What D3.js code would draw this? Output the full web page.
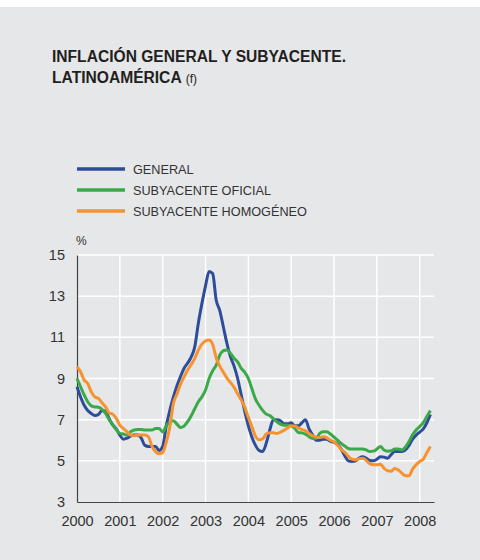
<!DOCTYPE html>
<html lang=es>
<meta charset=utf-8>
<title>Inflación general y subyacente</title>
<style>
  body { margin: 0; background: #fff; }
  svg { display: block; font-family: "Liberation Sans", Arial, sans-serif; }
</style>
<svg id=chart width=480 height=560></svg>
<script src="https://cdn.jsdelivr.net/npm/d3@7"></script>
<script>
// series mensuales, enero 2000 - abril 2008
var general = [
  8.6, 8.1, 7.7, 7.45, 7.3, 7.2, 7.25, 7.45, 7.4, 7.05, 6.75, 6.55,
  6.25, 6.05, 6.1, 6.2, 6.25, 6.25, 6.1, 5.75, 5.7, 5.7, 5.7, 5.5,
  5.7, 6.7, 7.45, 8.1, 8.65, 9.1, 9.5, 9.75, 10.05, 10.55, 11.7, 12.65,
  13.5, 14.2, 14.1, 12.8, 12.3, 11.5, 10.7, 10.05, 9.6, 9.0, 8.2, 7.4,
  6.7, 6.15, 5.75, 5.5, 5.45, 5.85, 6.5, 7.0, 7.0, 6.95, 6.8, 6.8,
  6.85, 6.7, 6.7, 6.85, 7.0, 6.55, 6.25, 6.0, 6.0, 6.05, 6.05, 5.95,
  5.9, 5.8, 5.57, 5.25, 5.0, 4.97, 5.0, 5.13, 5.2, 5.13, 5.02, 5.0,
  5.08, 5.2, 5.18, 5.13, 5.3, 5.45, 5.45, 5.45, 5.53, 5.75, 6.05, 6.25,
  6.4, 6.55, 6.85, 7.25
];
var subyacenteOficial = [
  9.0, 8.6, 8.2, 7.87, 7.67, 7.62, 7.6, 7.5, 7.3, 7.0, 6.75, 6.52,
  6.33, 6.3, 6.25, 6.41, 6.5, 6.52, 6.52, 6.5, 6.5, 6.5, 6.57, 6.57,
  6.4, 6.7, 6.88, 6.95, 6.78, 6.62, 6.69, 6.9, 7.19, 7.54, 7.87, 8.11,
  8.44, 9.0, 9.38, 9.65, 10.14, 10.35, 10.38, 10.22, 9.98, 9.81, 9.49, 9.3,
  9.0, 8.5, 8.0, 7.7, 7.45, 7.27, 7.2, 7.05, 6.9, 6.78, 6.73, 6.73,
  6.7, 6.57, 6.38, 6.36, 6.3, 6.17, 6.09, 6.09, 6.33, 6.41, 6.41, 6.3,
  6.15, 6.0, 5.85, 5.72, 5.6, 5.57, 5.57, 5.57, 5.57, 5.53, 5.45, 5.47,
  5.57, 5.7, 5.53, 5.47, 5.49, 5.57, 5.57, 5.53, 5.67, 5.94, 6.26, 6.5,
  6.67, 6.86, 7.15, 7.44
];
var subyacenteHomogeneo = [
  9.57, 9.33, 8.92, 8.76, 8.35, 8.11, 8.03, 7.82, 7.62, 7.33, 7.27, 7.06,
  6.73, 6.57, 6.41, 6.25, 6.22, 6.25, 6.25, 6.25, 6.17, 5.7, 5.45, 5.35,
  5.4, 5.9, 6.65, 7.79, 8.24, 8.73, 9.08, 9.41, 9.68, 9.98, 10.38, 10.67,
  10.82, 10.87, 10.65, 10.0, 9.6, 9.3, 9.02, 8.8, 8.57, 8.25, 7.96, 7.6,
  7.1, 6.65, 6.2, 6.02, 6.07, 6.3, 6.36, 6.36, 6.33, 6.39, 6.49, 6.6,
  6.69, 6.69, 6.6, 6.52, 6.46, 6.33, 6.22, 6.15, 6.13, 6.17, 6.12, 6.0,
  5.92, 5.76, 5.55, 5.42, 5.22, 5.08, 5.05, 5.1, 5.13, 5.02, 4.86, 4.81,
  4.81, 4.84, 4.64, 4.52, 4.5, 4.63, 4.56, 4.4, 4.27, 4.27, 4.6, 4.81,
  4.97, 5.08, 5.4, 5.7
];
var yearTicks = [2000, 2001, 2002, 2003, 2004, 2005, 2006, 2007, 2008];
var valueTicks = [3, 5, 7, 9, 11, 13, 15];
var seriesNames = ["GENERAL", "SUBYACENTE OFICIAL", "SUBYACENTE HOMOGÉNEO"];
var colors = ["#2d4d9b", "#3aa948", "#f7922f"];

var svg = d3.select("#chart");

// fondo gris
svg.append("rect").attr("x", 0).attr("y", 7).attr("width", 480).attr("height", 553).attr("fill", "#e6e7e9");

// titulo
var title = svg.append("text").attr("x", 52).attr("y", 62).attr("fill", "#231f20")
    .style("font-size", "15.6px").style("font-weight", "bold");
title.text("INFLACIÓN GENERAL Y SUBYACENTE.");
var title2 = svg.append("text").attr("x", 52).attr("y", 83).attr("fill", "#231f20")
    .style("font-size", "15.6px").style("font-weight", "bold");
title2.append("tspan").text("LATINOAMÉRICA");
title2.append("tspan").style("font-weight", "normal").style("font-size", "12px").attr("dx", 4).text("(f)");

// leyenda
var legend = svg.append("g").attr("class", "legend");
seriesNames.forEach(function (name, i) {
    var y = 169 + i * 21;
    legend.append("line").attr("x1", 77).attr("x2", 125).attr("y1", y).attr("y2", y)
        .attr("stroke", colors[i]).attr("stroke-width", 3.5);
    legend.append("text").attr("x", 133).attr("y", y + 4.5).attr("fill", "#333")
        .style("font-size", "12.7px").text(name);
});

// escalas
var x = d3.scaleLinear().domain([2000, 2008 + 4 / 12]).range([77, 434]);
var y = d3.scaleLinear().domain([3, 15]).range([502, 255]);

// rejilla
var grid = svg.append("g").attr("class", "grid");
grid.selectAll(".h").data(valueTicks.filter(function (d) { return d > 3; })).enter()
    .append("line").attr("class", "h")
    .attr("x1", x.range()[0]).attr("x2", x.range()[1])
    .attr("y1", function (d) { return y(d); }).attr("y2", function (d) { return y(d); })
    .attr("stroke", "#fff").attr("stroke-width", 1.5);
grid.selectAll(".v").data(yearTicks.filter(function (d) { return d > 2000; })).enter()
    .append("line").attr("class", "v")
    .attr("x1", function (d) { return x(d); }).attr("x2", function (d) { return x(d); })
    .attr("y1", y(15)).attr("y2", y(3))
    .attr("stroke", "#fff").attr("stroke-width", 1.5);

// ejes
var xAxis = d3.axisBottom(x).tickValues(yearTicks).tickFormat(d3.format("d")).tickSize(0).tickPadding(14);
var yAxis = d3.axisLeft(y).tickValues(valueTicks).tickSize(0).tickPadding(12);

var gx = svg.append("g").attr("transform", "translate(0," + y(3) + ")").call(xAxis);
var gy = svg.append("g").attr("transform", "translate(" + x(2000) + ",0)").call(yAxis);
[gx, gy].forEach(function (g) {
    g.select(".domain").attr("stroke", "#444").attr("stroke-width", 1.2);
    g.selectAll("text").attr("fill", "#333").style("font-size", "14.5px")
        .style("font-family", "'Liberation Sans', Arial, sans-serif");
});

svg.append("text").attr("x", 76).attr("y", 245).attr("fill", "#333").style("font-size", "12px").text("%");

// lineas
var line = d3.line()
    .x(function (d, i) { return x(2000 + i / 12); })
    .y(function (d) { return y(d); })
    .curve(d3.curveMonotoneX);

[general, subyacenteOficial, subyacenteHomogeneo].forEach(function (serie, i) {
    svg.append("path").datum(serie)
        .attr("fill", "none")
        .attr("stroke", colors[i])
        .attr("stroke-width", 3)
        .attr("stroke-linejoin", "round")
        .attr("d", line);
});
</script>
